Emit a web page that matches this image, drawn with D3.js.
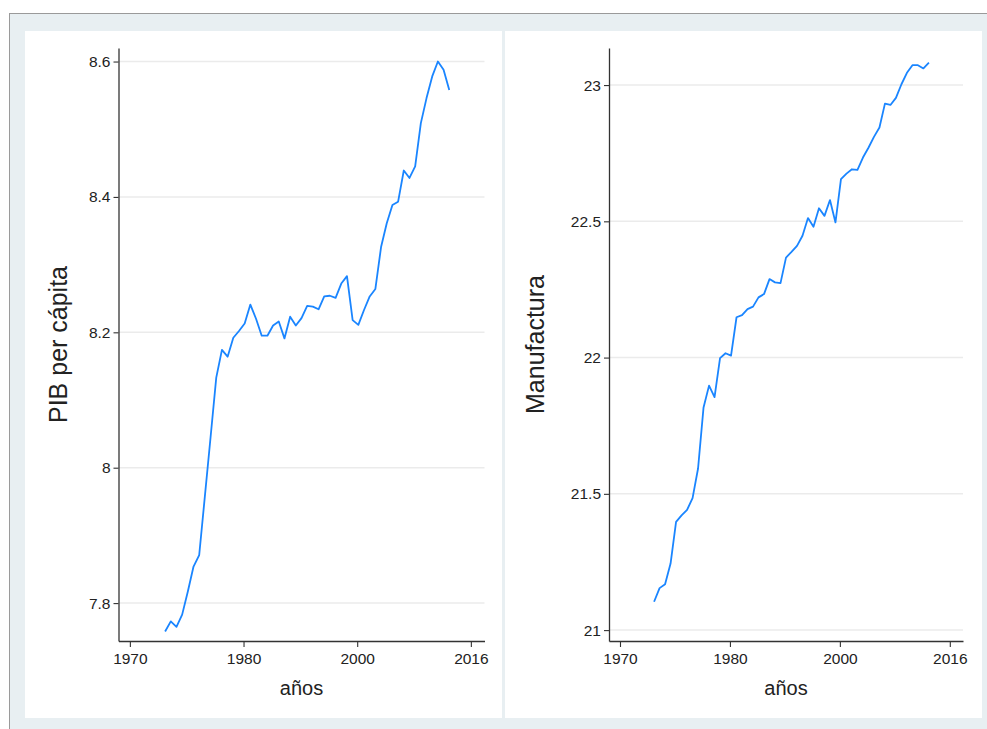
<!DOCTYPE html>
<html>
<head>
<meta charset="utf-8">
<script src="https://cdn.jsdelivr.net/npm/d3@7"></script>
<style>
  html, body { margin: 0; padding: 0; background: #ffffff; }
  svg { display: block; font-family: "Liberation Sans", Arial, sans-serif; }
</style>
</head>
<body>
<svg id="chart" width="987" height="729"></svg>
<script>
// ---- data ----
const obs = d3.range(51); // observation order, 51 consecutive periods

const pibPerCapita = [
  7.758, 7.773, 7.765, 7.783, 7.817, 7.854, 7.871, 7.958, 8.045, 8.133,
  8.174, 8.164, 8.192, 8.202, 8.213, 8.241, 8.220, 8.195, 8.195, 8.210,
  8.216, 8.191, 8.223, 8.210, 8.221, 8.239, 8.238, 8.234, 8.253, 8.254,
  8.251, 8.272, 8.283, 8.218, 8.211, 8.233, 8.253, 8.264, 8.326, 8.361,
  8.388, 8.393, 8.439, 8.428, 8.445, 8.509, 8.546, 8.578, 8.600, 8.588,
  8.558
];

const manufactura = [
  21.104, 21.154, 21.168, 21.244, 21.397, 21.421, 21.441, 21.484, 21.593, 21.817,
  21.897, 21.855, 21.998, 22.016, 22.007, 22.148, 22.156, 22.178, 22.187, 22.221,
  22.233, 22.288, 22.276, 22.273, 22.367, 22.388, 22.410, 22.447, 22.512, 22.480,
  22.548, 22.520, 22.578, 22.496, 22.655, 22.675, 22.691, 22.689, 22.734, 22.770,
  22.810, 22.844, 22.932, 22.927, 22.953, 23.003, 23.045, 23.073, 23.073, 23.061,
  23.082
];

// x-axis tick positions (in observation units) and their labels
const xTickPos = [-6.2, 13.8, 33.8, 53.8];
const xTickLabels = ["1970", "1980", "2000", "2016"];
const xDomain = [-8.2, 56.2];

const pibTicks = [7.8, 8, 8.2, 8.4, 8.6];
const pibDomain = [7.744, 8.62];
const manTicks = [21, 21.5, 22, 22.5, 23];
const manDomain = [20.96, 23.136];

const yTitles = ["PIB per cápita", "Manufactura"];
const xTitle = "años";

// ---- drawing ----
const svg = d3.select("#chart");

// outer frame + background
svg.append("rect").attr("x", 9.5).attr("y", 13.5).attr("width", 990).attr("height", 730)
  .attr("fill", "#e8eff2").attr("stroke", "#9a9a9a").attr("stroke-width", 1);

const panels = [
  { values: pibPerCapita, ticks: pibTicks, domain: pibDomain, title: yTitles[0],
    bg: [25, 31, 477, 687], axisX: 118.5, right: 484.5, titleX: 60 },
  { values: manufactura, ticks: manTicks, domain: manDomain, title: yTitles[1],
    bg: [505, 31, 477, 687], axisX: 609, right: 963, titleX: 537 }
];

const plotTop = 48, plotBottom = 641;

panels.forEach(p => {
  // white sub-graph background
  svg.append("rect").attr("x", p.bg[0]).attr("y", p.bg[1]).attr("width", p.bg[2]).attr("height", p.bg[3])
    .attr("fill", "#ffffff");

  const x = d3.scaleLinear().domain(xDomain).range([p.axisX, p.right]);
  const y = d3.scaleLinear().domain(p.domain).range([plotBottom, plotTop]);

  const g = svg.append("g");

  // gridlines
  g.append("g").selectAll("line").data(p.ticks).join("line")
    .attr("x1", p.axisX).attr("x2", p.right)
    .attr("y1", d => y(d)).attr("y2", d => y(d))
    .attr("stroke", "#ebebeb").attr("stroke-width", 1.5);

  // line
  const line = d3.line().x((d, i) => x(obs[i])).y(d => y(d));
  g.append("path").datum(p.values)
    .attr("d", line)
    .attr("fill", "none")
    .attr("stroke", "#1a85ff")
    .attr("stroke-width", 1.8)
    .attr("stroke-linejoin", "round");

  // y axis
  const yAxis = d3.axisLeft(y).tickValues(p.ticks).tickSize(5).tickSizeOuter(0).tickPadding(3)
    .tickFormat(d => String(d));
  const ya = g.append("g").attr("transform", `translate(${p.axisX},0)`).call(yAxis);
  ya.select(".domain").attr("stroke", "#333").attr("stroke-width", 1.3);
  ya.selectAll(".tick line").attr("stroke", "#333").attr("stroke-width", 1.1);
  ya.selectAll(".tick text").attr("font-size", 15.5).attr("fill", "#222")
    .attr("font-family", "Liberation Sans, Arial, sans-serif");

  // x axis
  const xAxis = d3.axisBottom(x).tickValues(xTickPos).tickSize(6).tickSizeOuter(0).tickPadding(6)
    .tickFormat((d, i) => xTickLabels[i]);
  const xa = g.append("g").attr("transform", `translate(0,${plotBottom})`).call(xAxis);
  xa.select(".domain").attr("stroke", "#333").attr("stroke-width", 1.3);
  xa.selectAll(".tick line").attr("stroke", "#333").attr("stroke-width", 1.1);
  xa.selectAll(".tick text").attr("font-size", 15.5).attr("fill", "#222")
    .attr("font-family", "Liberation Sans, Arial, sans-serif");

  // titles
  g.append("text")
    .attr("transform", `translate(${p.titleX},${(plotTop + plotBottom) / 2}) rotate(-90)`)
    .attr("text-anchor", "middle").attr("dominant-baseline", "middle")
    .attr("font-size", 25).attr("fill", "#222")
    .text(p.title);

  g.append("text")
    .attr("x", (p.axisX + p.right) / 2).attr("y", 695)
    .attr("text-anchor", "middle")
    .attr("font-size", 20).attr("fill", "#222")
    .text(xTitle);
});
</script>
</body>
</html>
